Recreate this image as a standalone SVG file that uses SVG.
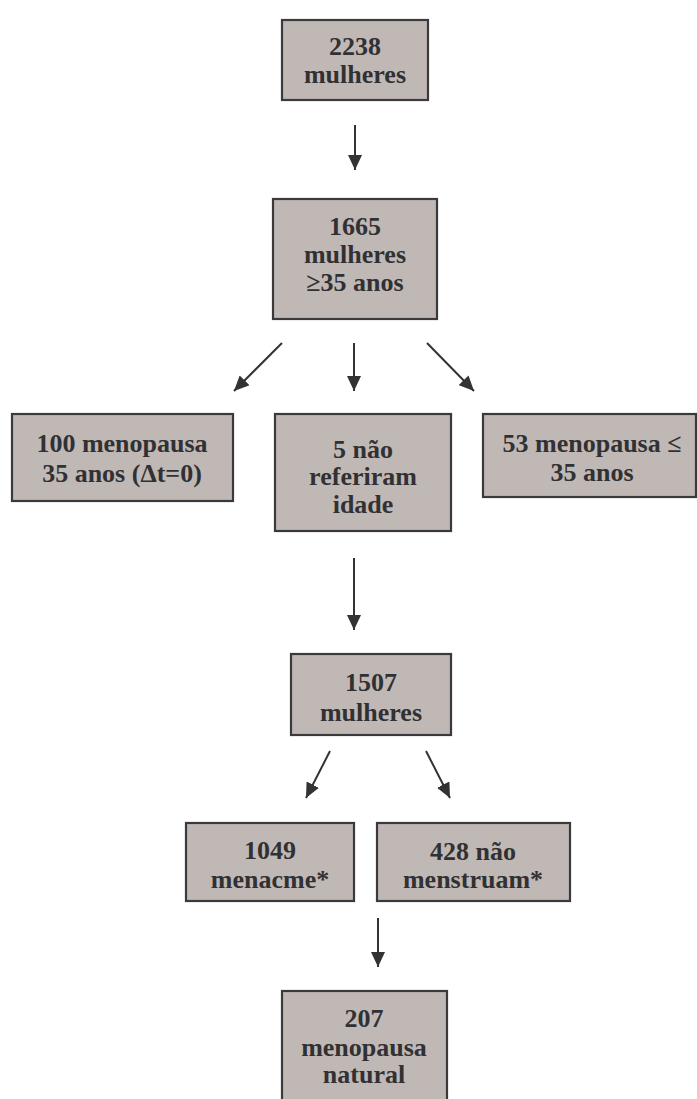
<svg xmlns="http://www.w3.org/2000/svg" width="697" height="1099" viewBox="0 0 697 1099">
<style>
.box{fill:#c0b8b5;stroke:#3a3a3c;stroke-width:2.2}
.t{font-family:'Liberation Serif','DejaVu Serif',serif;font-weight:700;font-size:26px;fill:#313134;text-anchor:middle}
.c{stroke:#333336;stroke-width:2;fill:none}
</style>
<defs>
<marker id="ah" markerUnits="userSpaceOnUse" markerWidth="16" markerHeight="14" refX="15" refY="7" orient="auto">
<path d="M0,0 L15,7 L0,14 z" fill="#333336"/>
</marker>
</defs>
<rect width="697" height="1099" fill="#ffffff"/>
<g id="connectors">
<line class="c" x1="355" y1="125" x2="355" y2="170" marker-end="url(#ah)"/>
<line class="c" x1="282" y1="343" x2="234" y2="391" marker-end="url(#ah)"/>
<line class="c" x1="354" y1="343" x2="354" y2="391" marker-end="url(#ah)"/>
<line class="c" x1="427" y1="343" x2="474" y2="391" marker-end="url(#ah)"/>
<line class="c" x1="354" y1="558" x2="354" y2="630" marker-end="url(#ah)"/>
<line class="c" x1="330" y1="751" x2="306" y2="798" marker-end="url(#ah)"/>
<line class="c" x1="426" y1="751" x2="450" y2="798" marker-end="url(#ah)"/>
<line class="c" x1="378" y1="918" x2="378" y2="967" marker-end="url(#ah)"/>
</g>
<g id="n2238">
<rect class="box" x="282" y="20" width="146" height="80"/>
<text class="t" x="355" y="55">2238</text>
<text class="t" x="355" y="83">mulheres</text>
</g>
<g id="n1665">
<rect class="box" x="273" y="199" width="164" height="120"/>
<text class="t" x="355" y="235">1665</text>
<text class="t" x="355" y="263">mulheres</text>
<text class="t" x="355" y="291">≥35 anos</text>
</g>
<g id="n100">
<rect class="box" x="12" y="414" width="221" height="87"/>
<text class="t" x="122" y="452">100 menopausa</text>
<text class="t" x="122" y="482">35 anos (Δt=0)</text>
</g>
<g id="n5">
<rect class="box" x="275" y="414" width="176" height="117"/>
<text class="t" x="363" y="458">5 não</text>
<text class="t" x="363" y="485">referiram</text>
<text class="t" x="363" y="513">idade</text>
</g>
<g id="n53">
<rect class="box" x="483" y="414" width="213" height="83"/>
<text class="t" x="592" y="452">53 menopausa ≤</text>
<text class="t" x="592" y="481">35 anos</text>
</g>
<g id="n1507">
<rect class="box" x="291" y="654" width="160" height="81"/>
<text class="t" x="371" y="691">1507</text>
<text class="t" x="371" y="721">mulheres</text>
</g>
<g id="n1049">
<rect class="box" x="186" y="823" width="168" height="78"/>
<text class="t" x="270" y="859">1049</text>
<text class="t" x="270" y="888">menacme*</text>
</g>
<g id="n428">
<rect class="box" x="377" y="823" width="193" height="78"/>
<text class="t" x="473" y="860">428 não</text>
<text class="t" x="473" y="888">menstruam*</text>
</g>
<g id="n207">
<rect class="box" x="282" y="991" width="165" height="120"/>
<text class="t" x="364" y="1027">207</text>
<text class="t" x="364" y="1056">menopausa</text>
<text class="t" x="364" y="1083">natural</text>
</g>
</svg>
